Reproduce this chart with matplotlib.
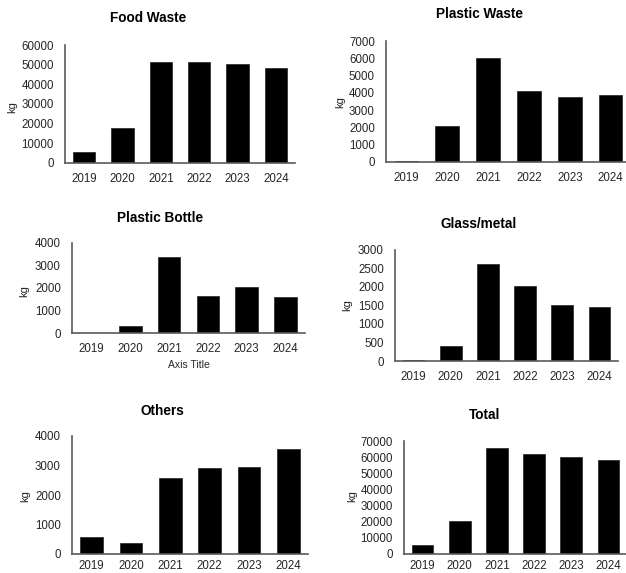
"""Waste collected per year, by category (kg)"""
import matplotlib
matplotlib.use('Agg')
import matplotlib.pyplot as plt

W, H = 626, 573
DPI = 100

YEARS = ['2019', '2020', '2021', '2022', '2023', '2024']

food_waste = [5600, 18000, 51200, 51300, 50100, 48300]
plastic_waste = [50, 2070, 6020, 4120, 3770, 3850]
plastic_bottle = [0, 330, 3380, 1660, 2030, 1600]
glass_metal = [25, 410, 2630, 2040, 1520, 1470]
others = [560, 360, 2570, 2920, 2955, 3560]
total = [5750, 20700, 65700, 62000, 60200, 58500]

# name, values, y max, y step, axes box in px (left, top, right, bottom),
# title centre px, kg label centre px, x axis title, year label pad
PANELS = [
    ('Food Waste', food_waste, 60000, 10000, (65, 45, 295, 163), (148, 18), (12, 107), None, 7),
    ('Plastic Waste', plastic_waste, 7000, 1000, (386, 41, 631, 162), (480, 14), (340, 102), None, 7),
    ('Plastic Bottle', plastic_bottle, 4000, 1000, (72, 243, 305, 333), (160, 218), (24, 291), 'Axis Title', 7),
    ('Glass/metal', glass_metal, 3000, 500, (395, 250, 618, 361), (479, 224), (347, 305), None, 7),
    ('Others', others, 4000, 1000, (72, 436, 308, 554), (162, 411), (25, 496), None, 4.5),
    ('Total', total, 70000, 10000, (404, 441, 627, 554), (485, 415), (352, 496), None, 4.5),
]

AXIS_GREY = '#5a5a5a'
TEXT_GREY = '#262626'

plt.rcParams['font.family'] = ['Liberation Sans', 'DejaVu Sans']

fig = plt.figure(figsize=(W / DPI, H / DPI), dpi=DPI)
fig.patch.set_facecolor('white')


def fx(px):
    return px / W


def fy(py):
    return 1 - py / H


for name, values, ymax, ystep, box, title_xy, kg_xy, xtitle, xpad in PANELS:
    left, top, right, bottom = box
    ax = fig.add_axes([fx(left), fy(bottom), (right - left) / W, (bottom - top) / H])
    ax.bar(range(len(YEARS)), values, width=0.58, color='black', edgecolor='#222222', linewidth=0.5)
    ax.set_xlim(-0.5, len(YEARS) - 0.5)
    ax.set_ylim(0, ymax)
    ax.set_yticks(range(0, ymax + 1, ystep))
    ax.set_xticks(range(len(YEARS)))
    ax.set_xticklabels(YEARS)
    for side in ('top', 'right'):
        ax.spines[side].set_visible(False)
    for side in ('left', 'bottom'):
        ax.spines[side].set_color(AXIS_GREY)
        ax.spines[side].set_linewidth(1.2)
    ax.tick_params(axis='both', length=0, labelsize=8.3, labelcolor=TEXT_GREY)
    ax.tick_params(axis='x', pad=xpad)
    ax.tick_params(axis='y', pad=8)
    ax.set_facecolor('none')
    if xtitle:
        ax.set_xlabel(xtitle, fontsize=7.5, color=TEXT_GREY, labelpad=4)

    fig.text(fx(title_xy[0]), fy(title_xy[1]), name, ha='center', va='center',
             fontsize=9.8, fontweight='bold', color='black')
    fig.text(fx(kg_xy[0]), fy(kg_xy[1]), 'kg', ha='center', va='center',
             rotation=90, fontsize=8, color=TEXT_GREY)

fig.savefig('out.png', dpi=DPI, facecolor='white')
